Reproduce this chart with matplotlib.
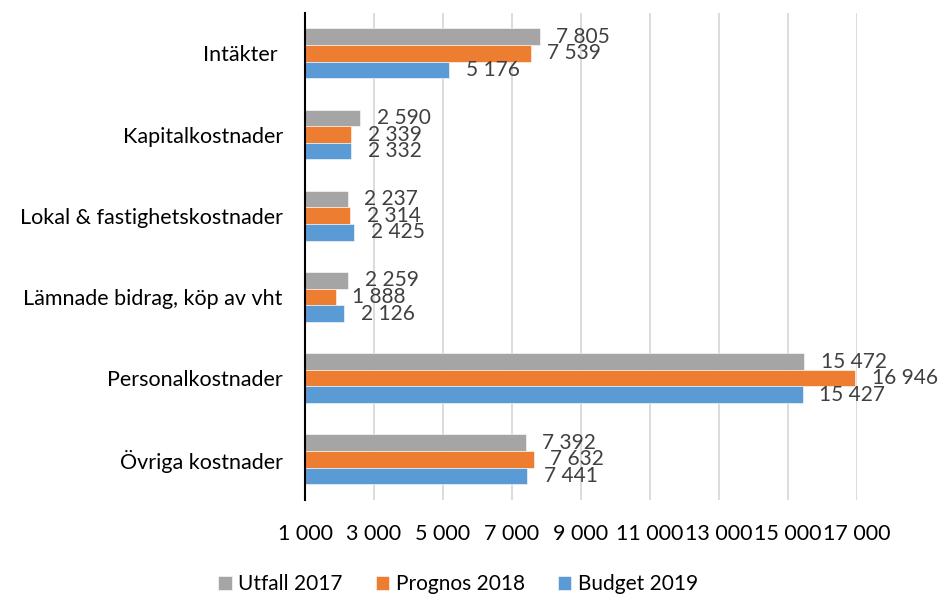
import matplotlib
matplotlib.use("Agg")
import matplotlib.pyplot as plt
import numpy as np

plt.rcParams['font.family'] = ['Lato', 'DejaVu Sans']

categories = ["Intäkter ", "Kapitalkostnader", "Lokal & fastighetskostnader",
              "Lämnade bidrag, köp av vht", "Personalkostnader", "Övriga kostnader"]
series_names = ["Utfall 2017", "Prognos 2018", "Budget 2019"]
utfall_2017 = [7805, 2590, 2237, 2259, 15472, 7392]
prognos_2018 = [7539, 2339, 2314, 1888, 16946, 7632]
budget_2019 = [5176, 2332, 2425, 2126, 15427, 7441]
colors = ["#A5A5A5", "#ED7D31", "#5B9BD5"]
xticks = list(range(1000, 17001, 2000))

def fmt(v):
    return f"{v:,}".replace(",", " ")

fig = plt.figure(figsize=(9.42, 5.95), dpi=100)
ax = fig.add_axes([305/942, 1-500/595, (857-305)/942, (500-12.7)/595])

n = len(categories)
y = np.arange(n)
h = 0.205
offsets = [-h, 0, h]
for vals, col, off, name in zip([utfall_2017, prognos_2018, budget_2019], colors, offsets, series_names):
    ax.barh(y + off, vals, height=h, color=col, label=name, zorder=2,
            edgecolor='white', linewidth=0.4)
    for yy, v in zip(y + off, vals):
        ax.annotate(fmt(v), xy=(v, yy), xytext=(12, 0), textcoords='offset points',
                    ha='left', va='center', fontsize=15, color='#404040', annotation_clip=False)

ax.set_xlim(1000, 17000)
ax.set_ylim(n - 0.5, -0.5)
ax.set_yticks(y)
ax.set_yticklabels(categories, fontsize=15.5, color='#000000')
ax.set_xticks(xticks)
ax.set_xticklabels([fmt(t) for t in xticks], fontsize=15.5, color='#000000')
ax.tick_params(axis='both', length=0)
ax.tick_params(axis='x', pad=17)
ax.tick_params(axis='y', pad=16)
ax.grid(axis='x', color='#D9D9D9', linewidth=1.3, zorder=0)
ax.set_axisbelow(True)
for s in ['top', 'right', 'bottom']:
    ax.spines[s].set_visible(False)
ax.spines['left'].set_color('black')
ax.spines['left'].set_linewidth(1.5)
ax.spines['left'].set_zorder(3)

handles, labels = ax.get_legend_handles_labels()
fig.legend(handles, labels, loc='center', bbox_to_anchor=(458/942, 1-584/595), ncol=3,
           frameon=False, fontsize=15, handlelength=0.65, handleheight=0.65,
           handletextpad=0.3, columnspacing=1.6)

fig.savefig("out.png", dpi=100)
